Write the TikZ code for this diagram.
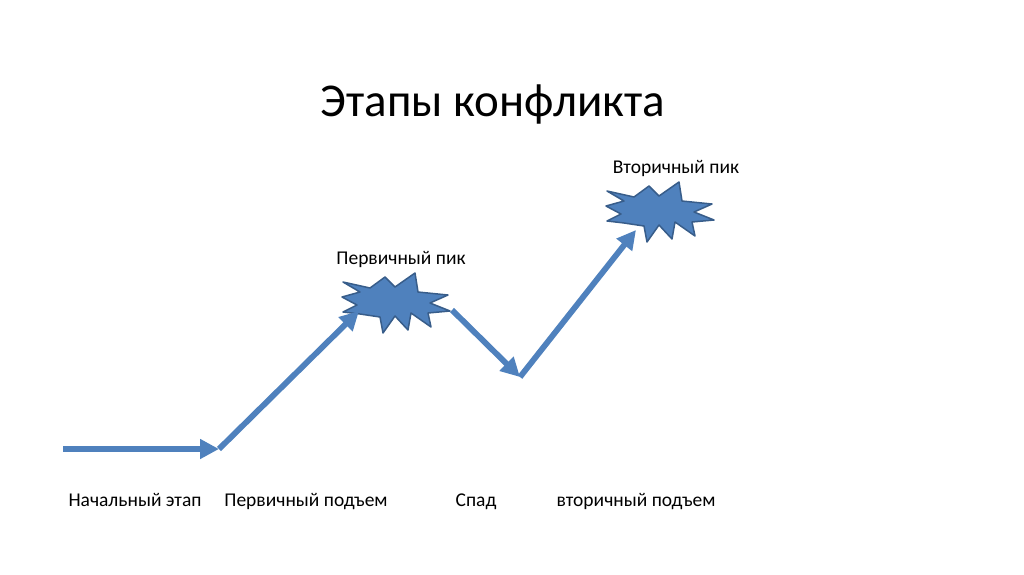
\documentclass[tikz,border=0pt]{standalone}
\usepackage{fontspec}
\setmainfont{Carlito}
\usetikzlibrary{arrows.meta}
\definecolor{ofblue}{HTML}{4F81BD}
\definecolor{ofborder}{HTML}{385D8A}
\tikzset{
  stagearrow/.style={draw=ofblue, line width=5.8pt, -{Triangle[length=19pt,width=19pt]}},
  burst/.style={fill=ofblue, draw=ofborder, line width=1.5pt, line join=round},
  titletext/.style={font=\fontsize{47}{52}\selectfont, inner sep=0pt, anchor=base},
  labeltext/.style={font=\fontsize{19.5}{22}\selectfont, inner sep=0pt, anchor=base},
}
\begin{document}
\begin{tikzpicture}[x=1pt,y=-1pt]
\useasboundingbox (0,0) rectangle (1024,574);
% explosions
\foreach \cx/\cy/\nm in {396/303/b1, 660/212/b2}{
  \begin{scope}[shift={(\cx,\cy)}]
  \coordinate (\nm) at (0,0);
  \path[burst] (-53,-21) -- (-26,-15) -- (-11,-26) -- (-1,-16) -- (19,-30) -- (22,-11)
    -- (52,-8) -- (34,0) -- (54,8) -- (32,10) -- (35,24) -- (15,10) -- (12,27)
    -- (-1,13) -- (-13,30) -- (-16,14) -- (-36,11) -- (-53,9) -- (-39,2) -- (-54,-6)
    -- (-36,-11) -- cycle;
  \end{scope}
}
% arrow end points
\coordinate (s0) at (63,449);
\coordinate (s1) at (219,449);
\coordinate (s2) at (359,311);
\coordinate (s3) at (452,310);
\coordinate (s4) at (520,377);
\coordinate (s5) at (636,230);
\draw[stagearrow] (s0) -- (s1);
\draw[stagearrow] (s1) -- (s2);
\draw[stagearrow] (s3) -- (s4);
\draw[stagearrow] (s4) -- (s5);
% texts
\node[titletext] (title) at (493,116) {Этапы конфликта};
\node[labeltext] (peak1) at (401,264) {Первичный пик};
\node[labeltext] (peak2) at (676,173) {Вторичный пик};
\node[labeltext] (l1) at (135,506) {Начальный этап};
\node[labeltext] (l2) at (306,506) {Первичный подъем};
\node[labeltext] (l3) at (476,506) {Спад};
\node[labeltext] (l4) at (636,506) {вторичный подъем};
\end{tikzpicture}
\end{document}
